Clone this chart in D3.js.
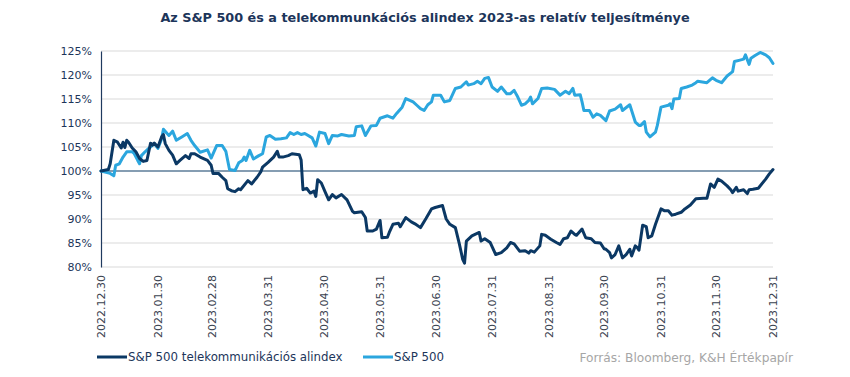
<!DOCTYPE html>
<html><head><meta charset="utf-8">
<script src="https://cdn.jsdelivr.net/npm/d3@7"></script>
<style>
html,body{margin:0;padding:0;background:#fff;}
svg{display:block;}
</style></head>
<body>
<svg id="chart" width="850" height="377"></svg>
<script>
// ---- data (day offsets from 2022-12-30, index values in %) ----
const telecomDays = [0,4,5,7,9,11,12,13,14,15,17,19,21,23,25,27,28,29,31,33,34,35,37,39,41,43,46,48,49,51,54,58,60,61,64,66,68,69,71,73,75,76,80,82,85,87,88,91,94,96,97,99,102,104,108,109,110,112,114,116,117,118,120,122,124,126,128,131,134,137,138,142,144,145,148,150,152,153,156,157,159,162,163,166,169,171,174,177,180,182,186,188,190,193,195,197,198,199,202,206,207,209,212,215,218,221,223,225,228,231,233,234,236,239,240,242,245,248,250,252,254,256,258,259,262,264,267,269,272,274,275,277,278,280,282,284,286,288,289,291,292,293,295,297,298,300,302,305,307,309,311,313,316,318,321,324,328,330,332,334,336,338,341,343,344,346,347,350,352,353,355,358,362,364,366];
const telecomValues = [100,100.3,101.5,106.4,106,104.8,106,104.9,106.4,106,104.8,104,102.6,102,102.2,105.8,105.4,105.8,105,107.1,107.6,105.7,104.3,103.3,101.5,102.2,103.2,102.6,103.6,103.6,102.9,102.2,101.2,99.5,99.5,98.7,98,96.3,95.9,95.7,96.3,96.1,98,97.3,98.7,99.8,100.8,101.8,102.9,104.1,102.9,102.9,103.2,103.6,103.4,102.3,96.1,96.4,95.4,95.8,94.7,98.2,97.5,95.7,94,95.1,94.4,95.1,94,91.6,91.3,91.5,90.3,87.5,87.5,87.9,89.7,86.1,86.2,87.2,88.9,89.1,88.4,90.3,89.4,89,88.2,90.1,92.1,92.4,92.8,90,88.9,88.2,85.1,81.6,80.8,85.4,86.5,87.2,85.4,85.9,85.1,82.6,83,84,85.1,84.8,83.3,83.4,82.9,83.4,83.1,84.4,86.8,86.6,85.8,85.1,84.7,85.9,86.1,87.5,86.8,86.6,87.9,86.1,85.9,85.1,85,83.8,83.7,83,81.9,82.6,84.4,81.9,82.6,83.7,82.3,84.4,84.1,83.5,88.7,88.4,86.1,86.5,88.9,92.1,91.7,91.7,90.8,91,91.4,92.1,92.9,94.2,94.3,94.3,97.3,96.6,98.3,97.9,96.9,96.1,95.5,96.6,95.8,96.1,95.3,96.1,96.2,96.4,98.3,99.4,100.3];

const spxDays = [0,5,7,8,10,12,14,17,18,20,21,22,24,26,27,29,31,33,34,36,37,39,41,44,47,49,51,54,58,60,63,66,68,69,70,73,75,77,78,79,81,83,86,88,90,92,95,98,101,103,105,107,109,111,115,117,119,122,124,126,129,131,135,138,139,142,144,147,150,152,156,159,161,164,166,170,172,174,176,178,180,181,185,187,190,193,196,199,200,203,205,207,209,211,213,216,218,221,223,225,227,229,231,233,234,235,238,240,243,247,250,253,255,257,258,261,262,263,266,268,270,272,275,276,277,280,283,284,288,291,293,294,296,297,299,302,303,305,309,310,311,312,315,316,319,322,324,325,330,333,335,338,341,344,345,348,350,351,353,354,356,359,362,364,366];
const spxValues = [100,99.5,99,101.2,101.5,102.9,104,104,103.7,102.2,101.5,103.2,104,104.7,105,105.7,104.7,106.7,108.7,107.8,107.4,108.3,106.4,107.1,107.8,106.4,105.3,103.9,104.4,102.7,105.3,105.3,104.1,102.2,100.3,100.1,101.7,102.2,102.9,102.2,104.3,102.5,103.2,103.6,107.1,107.4,106.6,106.7,106.9,108,107.6,108,107.6,107.8,106.9,105.2,108.1,107.8,105.7,107.4,107.3,107.6,107.3,107.4,109.2,109.4,107.4,109.4,109.5,111,111.5,111,112,113.3,115.1,114.4,113.7,113,112.6,113.8,114.4,115.8,115.8,114.4,114.7,117.2,117.5,118.6,117.9,118.2,118.7,118.2,119.3,119.5,117.5,116.6,117.5,116.1,116.1,116.8,115.4,113.7,114,114.7,115.4,114,115.1,117.2,117.3,117,115.8,116.6,116.1,117.2,115.8,115.9,114.4,112.6,112.6,111.2,111.9,111.6,110.5,111.5,112.5,112.9,113.8,112.6,113.8,110.2,109.5,109.5,110.3,108.1,107.1,108.1,109.5,113.3,113.7,114,113,115,115.1,117.2,117.5,117.9,118.4,118.7,118.4,119.4,118.9,118.4,119.8,120.7,122.8,123.1,123.3,124.2,122.2,123.5,124,124.7,124.2,123.6,122.4];

const yTicks = [80,85,90,95,100,105,110,115,120,125];
const xTickLabels = ["2022.12.30","2023.01.30","2023.02.28","2023.03.31","2023.04.30","2023.05.31","2023.06.30","2023.07.31","2023.08.31","2023.09.30","2023.10.31","2023.11.30","2023.12.31"];
const seriesNames = ["S&P 500 telekommunikációs alindex","S&P 500"];
const seriesColors = ["#0b3864","#2ba6de"];
const titleText = "Az S&P 500 és a telekommunkációs alindex 2023-as relatív teljesítménye";
const sourceText = "Forrás: Bloomberg, K&H Értékpapír";

// ---- drawing ----
const svg = d3.select("#chart");
const FONT = "'DejaVu Sans', sans-serif";
const textColor = "#1c355a";
const base = new Date(2022, 11, 30);
const parse = d3.timeParse("%Y.%m.%d");

const x = d3.scaleTime().domain([base, new Date(2023, 11, 31)]).range([101, 773]);
const y = d3.scaleLinear().domain([80, 125]).range([267, 51]);

// title
svg.append("text").attr("x", 425).attr("y", 22).attr("text-anchor", "middle")
  .attr("font-family", FONT).attr("font-weight", "bold").attr("font-size", 12.8)
  .attr("fill", textColor).text(titleText);

// gridlines
svg.append("g").selectAll("line").data(yTicks).join("line")
  .attr("x1", 101).attr("x2", 773)
  .attr("y1", d => y(d)).attr("y2", d => y(d))
  .attr("stroke", "#d9d9d9").attr("stroke-width", 1);

// y axis
const yAxis = svg.append("g").attr("transform", "translate(101,0)")
  .call(d3.axisLeft(y).tickValues(yTicks).tickSize(0).tickPadding(9).tickFormat(d => d + "%"));
yAxis.select(".domain").attr("stroke", "#1f3a5f").attr("stroke-width", 1.2);
yAxis.selectAll("text").attr("font-family", FONT).attr("font-size", 11).attr("fill", textColor);

// x axis labels
const xAxis = svg.append("g").attr("transform", "translate(0,267)")
  .call(d3.axisBottom(x).tickValues(xTickLabels.map(parse)).tickSize(0).tickFormat(d3.timeFormat("%Y.%m.%d")));
xAxis.select(".domain").remove();
xAxis.selectAll("text").attr("font-family", FONT).attr("font-size", 11).attr("fill", "#3a4250")
  .attr("text-anchor", "end").attr("transform", "rotate(-90)")
  .attr("x", -8).attr("y", 0).attr("dy", "0.35em");

// 100% reference line
svg.append("line").attr("x1", 101).attr("x2", 773).attr("y1", y(100)).attr("y2", y(100))
  .attr("stroke", "#1f4e79").attr("stroke-width", 1.2);

const line = d3.line().x(d => x(d3.timeDay.offset(base, d[0]))).y(d => y(d[1]));
const series = [
  d3.zip(spxDays, spxValues),
  d3.zip(telecomDays, telecomValues)
];
const colorsOrdered = [seriesColors[1], seriesColors[0]];
svg.append("g").selectAll("path").data(series).join("path")
  .attr("d", line).attr("fill", "none")
  .attr("stroke", (d, i) => colorsOrdered[i]).attr("stroke-width", 3)
  .attr("stroke-linejoin", "round").attr("stroke-linecap", "round");

// legend
const legend = svg.append("g");
const legendX = [97, 363];
seriesNames.forEach((name, i) => {
  legend.append("line").attr("x1", legendX[i]).attr("x2", legendX[i] + 30)
    .attr("y1", 357).attr("y2", 357).attr("stroke", seriesColors[i]).attr("stroke-width", 3);
  legend.append("text").attr("x", legendX[i] + 31).attr("y", 361)
    .attr("font-family", FONT).attr("font-size", 11.8).attr("fill", textColor).text(name);
});
svg.append("text").attr("x", 793).attr("y", 362).attr("text-anchor", "end")
  .attr("font-family", FONT).attr("font-size", 12.2).attr("fill", "#a6a6a6").text(sourceText);
</script>
</body></html>
